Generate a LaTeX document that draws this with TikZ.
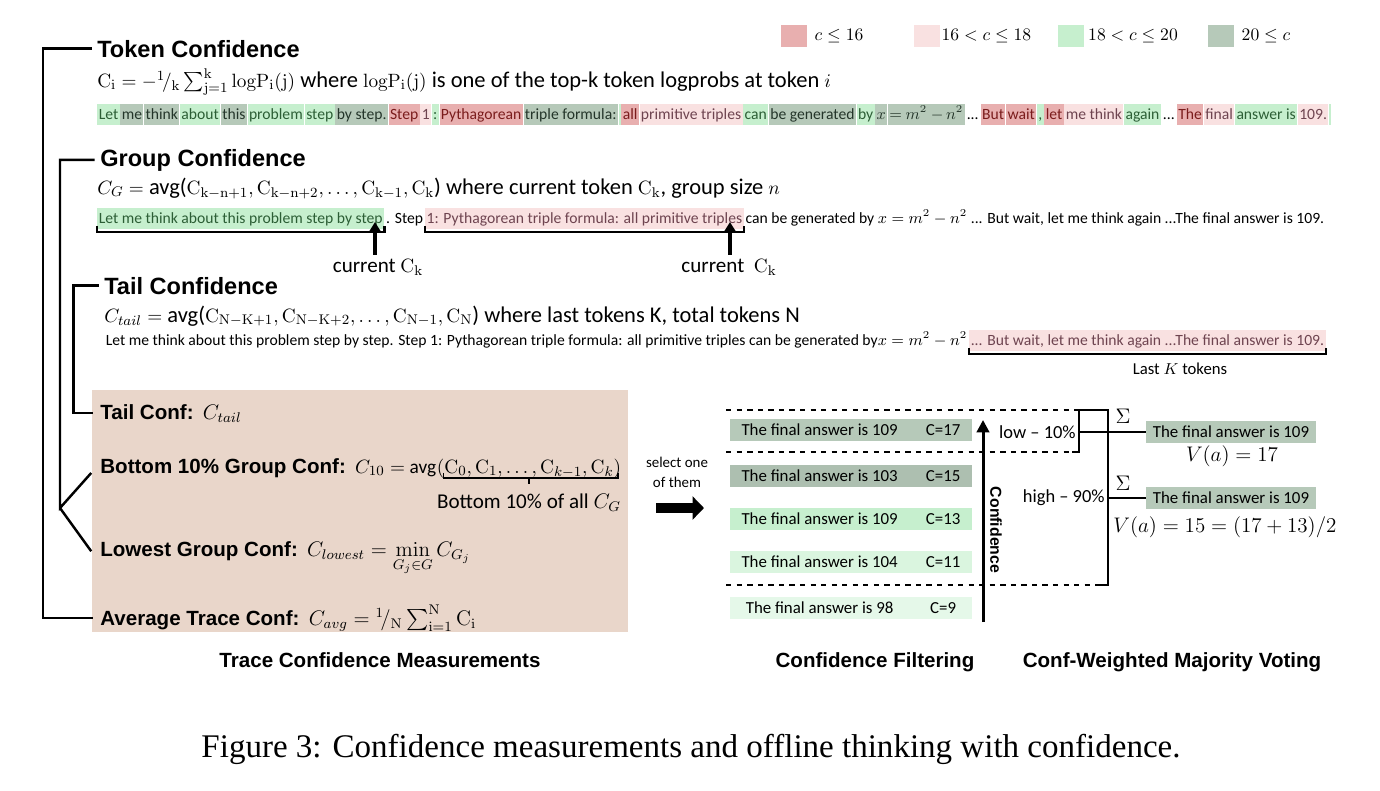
\documentclass[tikz,border=0pt]{standalone}
\usepackage{amsmath}
\usepackage[no-math]{fontspec}
\setmainfont{Carlito}
\newfontfamily\headfont{Liberation Sans}
\newfontfamily\capfont{Liberation Serif}
\usetikzlibrary{positioning,arrows.meta}
\definecolor{confred}{HTML}{E8AFAF}
\definecolor{confpink}{HTML}{F9E1E1}
\definecolor{confgreen}{HTML}{C6EFCE}
\definecolor{confdark}{HTML}{B6C9B9}
\definecolor{confbrown}{HTML}{E9D6CA}
\definecolor{txtred}{HTML}{7A1C1C}
\definecolor{txtpink}{HTML}{6E4450}
\definecolor{txtgreen}{HTML}{2C5E35}
\definecolor{txtdark}{HTML}{24352A}
\newcommand{\fmath}[2][11.3]{{\fontsize{#1}{13}\selectfont$#2$}}

\begin{document}
\begin{tikzpicture}[x=0.02cm,y=-0.02cm,
    title/.style={anchor=base west,inner sep=0pt,font=\headfont\bfseries\fontsize{13.4}{16}\selectfont},
    formula/.style={anchor=base west,inner sep=0pt,font=\fontsize{12.8}{15}\selectfont},
    tok/.style={inner xsep=0.8pt,inner ysep=0.7pt,text height=7.8pt,text depth=2.7pt,font=\fontsize{8.9}{10}\selectfont},
    tr/.style={tok,fill=confred,text=txtred},
    tp/.style={tok,fill=confpink,text=txtpink},
    tg/.style={tok,fill=confgreen,text=txtgreen},
    td/.style={tok,fill=confdark,text=txtdark},
    tw/.style={tok,text=black},
    sub/.style={anchor=base west,inner sep=0pt,font=\fontsize{11.7}{14}\selectfont},
    part/.style={anchor=base,inner sep=0pt,font=\headfont\bfseries\fontsize{11.7}{14}\selectfont},
    legendbox/.style={minimum width=0.52cm,minimum height=0.46cm,inner sep=0pt},
    legendtext/.style={inner sep=0pt,font=\fontsize{10}{12}\selectfont},
    ansbox/.style={minimum width=4.84cm,minimum height=0.44cm,inner sep=0pt,font=\fontsize{9.6}{11}\selectfont},
    tree/.style={line width=1.4pt},
    brk/.style={line width=1.3pt},
    brk2/.style={line width=1pt},
    dashline/.style={line width=1pt,dashed},
    uparrow/.style={line width=2.2pt,-{Triangle[length=6pt,width=7pt]}}]
  \useasboundingbox (0,0) rectangle (1380,791);

  % legend
  \node[legendbox,fill=confred] (k1) at (794,36) {};
  \node[legendbox,fill=confpink] (k2) at (927,36) {};
  \node[legendbox,fill=confgreen] (k3) at (1071,36) {};
  \node[legendbox,fill=confdark] (k4) at (1221,36) {};
  \node[legendtext,right=4pt of k1] (k1t) {$c \le 16$};
  \node[legendtext,right=0.5pt of k2] (k2t) {$16 < c \le 18$};
  \node[legendtext,right=2pt of k3] (k3t) {$18 < c \le 20$};
  \node[legendtext,right=4pt of k4] (k4t) {$20 \le c$};

  % token confidence
  \node[title] (tokt) at (97,57) {Token Confidence};
  \node[formula] (tokf) at (97,87) {\fmath{\mathrm{C_i} = -{}^{1}\!/_{\mathrm{k}}\sum_{\mathrm{j=1}}^{\mathrm{k}}\mathrm{logP_i(j)}} where \fmath{\mathrm{logP_i(j)}} is one of the top-k token logprobs at token \fmath{i}};
  \node[tg,anchor=base west] (t1) at (97,119) {Let};
  \node[td,right=0pt of t1] (t2) {me};
  \node[td,right=0pt of t2] (t3) {think};
  \node[tg,right=0pt of t3] (t4) {about};
  \node[td,right=0pt of t4] (t5) {this};
  \node[tg,right=0pt of t5] (t6) {problem};
  \node[tg,right=0pt of t6] (t7) {step};
  \node[td,right=0pt of t7] (t8) {by step.};
  \node[tr,right=0pt of t8] (t9) {Step};
  \node[tp,right=0pt of t9] (t10) {1};
  \node[tg,right=0pt of t10] (t11) {:};
  \node[tr,right=0pt of t11] (t12) {Pythagorean};
  \node[td,right=0pt of t12] (t13) {triple formula:};
  \node[tg,right=0pt of t13,inner xsep=0.6pt] (t14) {};
  \node[tr,right=0pt of t14] (t15) {all};
  \node[tp,right=0pt of t15] (t16) {primitive triples};
  \node[tg,right=0pt of t16] (t17) {can};
  \node[td,right=0pt of t17] (t18) {be generated};
  \node[tg,right=0pt of t18] (t19) {by};
  \node[td,right=0pt of t19] (t20) {$x$};
  \node[td,right=0pt of t20] (t21) {$=$};
  \node[td,right=0pt of t21] (t22) {$m^2$};
  \node[td,right=0pt of t22] (t23) {$-\,n^2$};
  \node[tw,right=0pt of t23] (t24) {...};
  \node[tr,right=0pt of t24] (t25) {But};
  \node[tr,right=0pt of t25] (t26) {wait};
  \node[tg,right=0pt of t26] (t27) {,};
  \node[tr,right=0pt of t27] (t28) {let};
  \node[tp,right=0pt of t28] (t29) {me think};
  \node[tg,right=0pt of t29] (t30) {again};
  \node[tw,right=0pt of t30] (t31) {...};
  \node[tr,right=0pt of t31] (t32) {The};
  \node[tp,right=0pt of t32] (t33) {final};
  \node[tg,right=0pt of t33] (t34) {answer is};
  \node[tp,right=0pt of t34] (t35) {109.};
  \node[tg,right=0pt of t35,inner xsep=0.6pt] (t36) {};

  % group confidence
  \node[title] (grpt) at (100,166) {Group Confidence};
  \node[formula] (grpf) at (97,194) {\fmath{C_G =} avg(\fmath{\mathrm{C_{k-n+1}}, \mathrm{C_{k-n+2}}, \dots, \mathrm{C_{k-1}}, \mathrm{C_k}}) where current token \fmath{\mathrm{C_k}}, group size \fmath{n}};
  \node[tg,anchor=base west] (g1) at (97,223) {Let me think about this problem step by step};
  \node[tw,right=0pt of g1] (g2) {. Step};
  \node[tp,right=0pt of g2] (g3) {1: Pythagorean triple formula: all primitive triples};
  \node[tw,right=0pt of g3] (g4) {can be generated by $x = m^2 - n^2$ ... But wait, let me think again ...The final answer is 109.};
  \draw[brk] ([yshift=2pt]g1.south west) |- ([yshift=-1.5pt]g1.south east) -- ([yshift=2pt]g1.south east);
  \draw[brk] ([yshift=2pt]g3.south west) |- ([yshift=-1.5pt]g3.south east) -- ([yshift=2pt]g3.south east);
  \node[formula,anchor=base,font=\fontsize{12}{14}\selectfont] (cur1) at (378,272) {current \fmath{\mathrm{C_k}}};
  \node[formula,anchor=base,font=\fontsize{12}{14}\selectfont] (cur2) at (729,272) {current\ \ \fmath{\mathrm{C_k}}};
  \draw[uparrow] ([yshift=2pt]cur1.north -| 375,0) -- (375,222);
  \draw[uparrow] ([yshift=2pt]cur2.north -| 730,0) -- (730,222);

  % tail confidence
  \node[title] (tailt) at (104,294) {Tail Confidence};
  \node[formula] (tailf) at (104,322) {\fmath{C_{tail} =} avg(\fmath{\mathrm{C_{N-K+1}}, \mathrm{C_{N-K+2}}, \dots, \mathrm{C_{N-1}}, \mathrm{C_N}}) where last tokens K, total tokens N};
  \node[tw,anchor=base west] (l1) at (104,345) {Let me think about this problem step by step. Step 1: Pythagorean triple formula: all primitive triples can be generated by$x = m^2 - n^2$};
  \node[tp,right=0pt of l1] (l2) {... But wait, let me think again ...The final answer is 109.};
  \draw[brk] ([yshift=2pt]l2.south west) |- ([yshift=-1.5pt]l2.south east) -- ([yshift=2pt]l2.south east);
  \node[anchor=base,inner sep=0pt,font=\fontsize{9.5}{11}\selectfont] (lastk) at (1180,374) {Last $K$ tokens};

  % trace measurements
  \fill[confbrown] (92,390) rectangle (628,632);
  \node[sub] (tconf) at (100,419) {{\headfont\bfseries Tail Conf:}\ \ \fmath[12]{C_{tail}}};
  \node[sub] (b10) at (100,473) {{\headfont\bfseries Bottom 10\% Group Conf:}\ \ \fmath[11]{C_{10} =} {\fontsize{11}{13}\selectfont avg}};
  \node[sub,font=\fontsize{11}{13}\selectfont] (b10arg) at (b10.base east) {$(\mathrm{C}_0, \mathrm{C}_1, \dots, \mathrm{C}_{k-1}, \mathrm{C}_k)$};
  \draw[brk2] ([xshift=4pt,yshift=3pt]b10arg.south west) -- ([xshift=4pt]b10arg.south west) -- ([xshift=-2pt]b10arg.south east) -- ([xshift=-2pt,yshift=3pt]b10arg.south east);
  \draw[brk2] (b10arg.south) -- ++(0,6) node[below=5pt,inner sep=0pt,font=\fontsize{12}{14}\selectfont] (b10note) {Bottom 10\% of all $C_G$};
  \node[sub] (low) at (100,556) {{\headfont\bfseries Lowest Group Conf:}\ \ \fmath[12]{C_{lowest} = \min\limits_{G_j\in G} C_{G_j}}};
  \node[sub] (avgc) at (100,625) {{\headfont\bfseries Average Trace Conf:}\ \ \fmath[12]{C_{avg} = {}^{1}\!/_{\mathrm{N}}\sum_{\mathrm{i=1}}^{\mathrm{N}}\mathrm{C_i}}};

  % tree lines
  \coordinate (outer) at (43,0);
  \coordinate (fork) at (60,508);
  \draw[tree] ([xshift=-3pt]tokt.west) -- (tokt.west -| outer) |- ([xshift=-4pt]avgc.west);
  \draw[tree] ([xshift=-3pt]grpt.west) -| (fork) -- ([xshift=-5pt,yshift=-3pt]b10.west);
  \draw[tree] (fork) -- ([xshift=-5pt,yshift=4pt]low.west);
  \draw[tree] ([xshift=-3pt]tailt.west) -- ++(-25,0) |- ([xshift=-4pt]tconf.west);

  % select arrow
  \node[align=center,inner sep=0pt,font=\fontsize{8.5}{11.3}\selectfont] (sel) at (677,472) {select one\\of them};
  \coordinate (bigs) at (656,508);
  \coordinate (bige) at (704,508);
  \draw[line width=6pt,-{Triangle[length=6.5pt,width=13pt]}] (bigs) -- (bige);

  % confidence filtering
  \node[ansbox,fill=confdark] (a1) at (851,430) {\makebox[105pt][l]{The final answer is 109}C=17};
  \node[ansbox,fill=confdark!95!black] (a2) at (851,476) {\makebox[105pt][l]{The final answer is 103}C=15};
  \node[ansbox,fill=confgreen] (a3) at (851,519) {\makebox[105pt][l]{The final answer is 109}C=13};
  \node[ansbox,fill=confgreen!65] (a4) at (851,562) {\makebox[105pt][l]{The final answer is 104}C=11};
  \node[ansbox,fill=confgreen!45] (a5) at (851,608) {\makebox[105pt][l]{The final answer is 98}C=9};
  \coordinate (cb) at (983,622);
  \coordinate (ct) at (983,420);
  \draw[line width=1.7pt,-{Triangle[length=7pt,width=7pt]}] (cb) -- (ct);
  \node[rotate=-90,inner sep=0pt,font=\headfont\bfseries\fontsize{9}{11}\selectfont] (clab) at (996,530) {Confidence};

  % majority voting
  \coordinate (lt) at (1079,410);
  \coordinate (lb) at (1079,452);
  \coordinate (ht) at (1108,410);
  \coordinate (hb) at (1108,585);
  \draw[dashline] ([xshift=-2pt]a1.west |- lt) -- (lt);
  \draw[dashline] ([xshift=-2pt]a1.west |- lb) -- (lb);
  \draw[dashline] ([xshift=-2pt]a1.west |- hb) -- (hb);
  \draw[brk2] (lt) -- (lb) -- ([xshift=-4pt]lb);
  \draw[brk2] ([xshift=-2pt]lt) -- (ht) -- (hb) -- ([xshift=-6pt]hb);
  \node[anchor=east,inner sep=0pt,font=\fontsize{10.5}{12}\selectfont] (lowl) at (1076,432) {low -- 10\%};
  \node[anchor=east,inner sep=0pt,font=\fontsize{10.5}{12}\selectfont] (highl) at (1105,498) {high -- 90\%};
  \node[ansbox,minimum width=3.4cm,fill=confdark] (v1) at (1231,432) {The final answer is 109};
  \node[ansbox,minimum width=3.4cm,fill=confdark] (v2) at (1231,498) {The final answer is 109};
  \draw[brk2] (lt |- v1.west) -- (v1.west);
  \draw[brk2] (ht |- v2.west) -- (v2.west);
  \node[inner sep=0pt,font=\fontsize{13}{15}\selectfont] (sig1) at (1123,416) {$\Sigma$};
  \node[inner sep=0pt,font=\fontsize{13}{15}\selectfont] (sig2) at (1123,483) {$\Sigma$};
  \node[inner sep=0pt,font=\fontsize{11.5}{14}\selectfont] (va1) at (1232,456) {$V(a) = 17$};
  \node[inner sep=0pt,font=\fontsize{11.5}{14}\selectfont] (va2) at (1225,527) {$V(a) = 15 = (17 + 13)/2$};

  % part labels and caption
  \node[part] (trace) at (380,667) {Trace Confidence Measurements};
  \node[part] (filt) at (875,667) {Confidence Filtering};
  \node[part] (vote) at (1172,667) {Conf-Weighted Majority Voting};
  \node[anchor=base,inner sep=0pt,font=\capfont\fontsize{18.8}{22}\selectfont] (fig) at (691,757) {Figure 3: Confidence measurements and offline thinking with confidence.};
\end{tikzpicture}
\end{document}
